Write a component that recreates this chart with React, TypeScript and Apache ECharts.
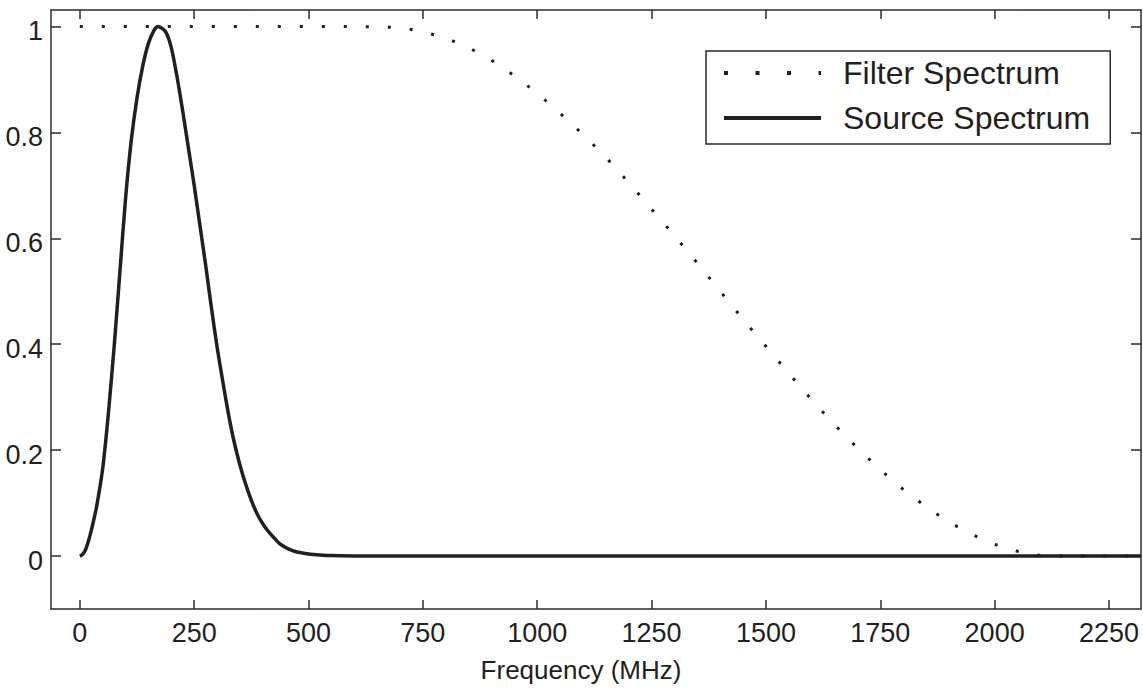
import React, { useEffect, useRef } from "react";
import * as echarts from "echarts";

// ---- Data ----
const xTicks = [0, 250, 500, 750, 1000, 1250, 1500, 1750, 2000, 2250];
const yTicks = [0, 0.2, 0.4, 0.6, 0.8, 1];

const sourceFreq = [
  0, 6, 12.5, 18.75, 25, 31, 37.5, 50, 62.5, 75, 87.5, 100, 112.5, 125, 137.5, 150,
  162.5, 171, 187.5, 200, 212.5, 225, 237.5, 250, 262.5, 275, 287.5, 300, 312.5, 325,
  337.5, 350, 362.5, 375, 387.5, 400, 412.5, 425, 437.5, 450, 462.5, 475, 500, 525,
  550, 600, 650, 1000, 1500, 2000, 2320,
];
const sourceAmp = [
  0.0, 0.003, 0.012, 0.028, 0.048, 0.07, 0.097, 0.165, 0.27, 0.395, 0.535, 0.675,
  0.785, 0.865, 0.925, 0.968, 0.993, 1.0, 0.99, 0.96, 0.905, 0.84, 0.77, 0.7, 0.625,
  0.55, 0.47, 0.395, 0.33, 0.268, 0.215, 0.172, 0.136, 0.105, 0.08, 0.061, 0.046,
  0.034, 0.023, 0.016, 0.011, 0.0076, 0.004, 0.002, 0.0008, 0.0002, 0, 0, 0, 0, 0,
];

const filterFreq = [
  0, 100, 200, 300, 400, 500, 600, 700, 750, 800, 850, 900, 950, 1000, 1050, 1100,
  1150, 1200, 1250, 1300, 1350, 1400, 1450, 1500, 1550, 1600, 1650, 1700, 1750,
  1800, 1850, 1900, 1950, 2000, 2050, 2100, 2150, 2200, 2250, 2320,
];
const filterAmp = [
  1, 1, 1, 1, 1, 1, 1, 0.998, 0.99, 0.978, 0.96, 0.936, 0.907, 0.874, 0.836, 0.796,
  0.753, 0.705, 0.655, 0.605, 0.553, 0.5, 0.447, 0.396, 0.345, 0.295, 0.248, 0.204,
  0.163, 0.126, 0.093, 0.064, 0.041, 0.022, 0.009, 0.001, 0, 0, 0, 0,
];

const seriesNames = ["Filter Spectrum", "Source Spectrum"];
const xName = "Frequency (MHz)";

const FONT = '"Liberation Sans", Arial, Helvetica, sans-serif';
const INK = "#231f20";
const AXIS = "#2b2b2b";

export default function App() {
  const ref = useRef<HTMLDivElement>(null);

  useEffect(() => {
    if (!ref.current) return;
    const chart = echarts.init(ref.current, undefined, { renderer: "svg" });

    const axisLineStyle = { color: AXIS, width: 1.5 };
    const baseX = {
      type: "value" as const,
      min: -63,
      max: 2320,
      splitLine: { show: false },
      axisLine: { show: true, onZero: false, lineStyle: axisLineStyle },
      axisTick: { show: true, inside: true, length: 9, customValues: xTicks, lineStyle: axisLineStyle },
    };
    const baseY = {
      type: "value" as const,
      min: -0.1,
      max: 1.031,
      splitLine: { show: false },
      axisLine: { show: true, onZero: false, lineStyle: axisLineStyle },
      axisTick: { show: true, inside: true, length: 10, customValues: yTicks, lineStyle: axisLineStyle },
    };

    chart.setOption({
      animation: false,
      backgroundColor: "#ffffff",
      grid: { left: 51, right: 2, top: 10, bottom: 81, containLabel: false, outerBoundsMode: "none" },
      xAxis: [
        {
          ...baseX,
          position: "bottom",
          axisLabel: {
            show: true,
            customValues: xTicks,
            fontSize: 27,
            fontFamily: FONT,
            color: INK,
            margin: 10,
            formatter: (v: number) => String(v),
          },
          name: xName,
          nameLocation: "middle",
          nameGap: 48,
          nameTextStyle: { fontSize: 26, fontFamily: FONT, color: INK, padding: [0, 30, 0, 0] },
        },
        { ...baseX, position: "top", axisLabel: { show: false } },
      ],
      yAxis: [
        {
          ...baseY,
          position: "left",
          axisLabel: {
            show: true,
            customValues: yTicks,
            fontSize: 27,
            fontFamily: FONT,
            color: INK,
            margin: 8,
            formatter: (v: number) => "{l|" + String(Math.round(v * 10) / 10) + "}",
            rich: {
              l: { fontSize: 27, fontFamily: FONT, color: INK, padding: [10, 0, 0, 0] },
            },
          },
        },
        { ...baseY, position: "right", axisLabel: { show: false } },
      ],
      legend: {
        orient: "vertical",
        left: 706,
        top: 51,
        itemWidth: 97,
        itemHeight: 2,
        itemGap: 11,
        padding: [5, 20, 9, 16],
        borderColor: AXIS,
        borderWidth: 1.5,
        backgroundColor: "#ffffff",
        itemStyle: { opacity: 0 },
        textStyle: { fontSize: 32, fontFamily: FONT, color: INK, lineHeight: 34, padding: [0, 0, 0, 17] },
        data: [
          {
            name: seriesNames[0],
            itemStyle: { opacity: 0 },
            lineStyle: { type: [4, 27.5], width: 4, cap: "butt", color: INK },
          },
          {
            name: seriesNames[1],
            itemStyle: { opacity: 0 },
            lineStyle: { type: "solid", width: 4, color: INK },
          },
        ],
      },
      series: [
        {
          name: seriesNames[0],
          type: "line",
          xAxisIndex: 0,
          yAxisIndex: 0,
          symbol: "none",
          clip: true,
          data: filterFreq.map((f, i) => [f, filterAmp[i]]),
          lineStyle: { color: INK, width: 3, type: [3, 19], cap: "butt" },
          itemStyle: { color: INK },
          z: 2,
        },
        {
          name: seriesNames[1],
          type: "line",
          xAxisIndex: 0,
          yAxisIndex: 0,
          symbol: "none",
          smooth: 0.25,
          clip: true,
          data: sourceFreq.map((f, i) => [f, sourceAmp[i]]),
          lineStyle: { color: INK, width: 3.5 },
          itemStyle: { color: INK },
          z: 3,
        },
      ],
    });

    return () => chart.dispose();
  }, []);

  return (
    <div
      ref={ref}
      style={{ position: "absolute", left: 0, top: 0, width: 1143, height: 690 }}
    />
  );
}
